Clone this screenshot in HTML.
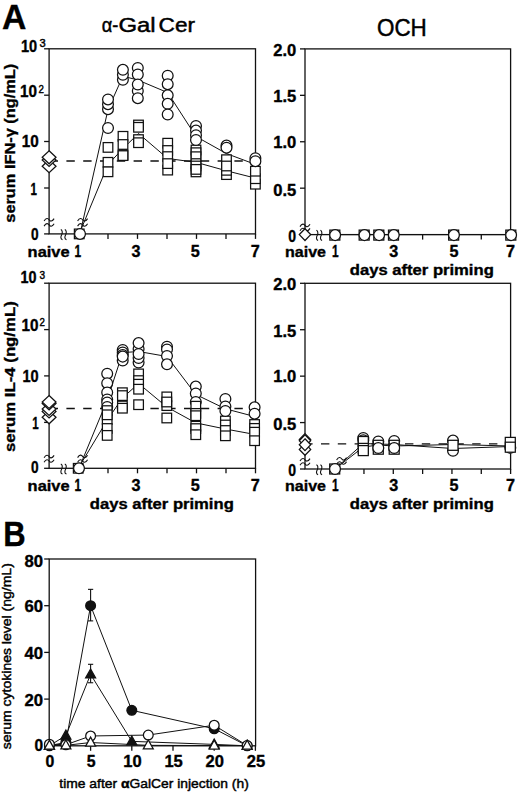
<!DOCTYPE html>
<html><head><meta charset="utf-8"><style>
html,body{margin:0;padding:0;background:#fff;width:520px;height:793px;overflow:hidden}
svg{display:block}
text{font-family:"Liberation Sans", sans-serif}
</style></head><body>
<svg width="520" height="793" viewBox="0 0 520 793" font-family='"Liberation Sans", sans-serif' fill="#000">
<rect width="520" height="793" fill="#fff"/>
<text x="1.9" y="29.3" font-size="35.5" font-weight="bold" text-anchor="start" textLength="24.4" lengthAdjust="spacingAndGlyphs" stroke="#000" stroke-width="0.35">A</text>
<text x="101.8" y="32.3" font-size="19.4" font-weight="normal" text-anchor="start" textLength="16.6" lengthAdjust="spacingAndGlyphs" stroke="#000" stroke-width="0.45">α-</text>
<text x="118.4" y="32.3" font-size="19.4" font-weight="normal" text-anchor="start" textLength="37.2" lengthAdjust="spacingAndGlyphs" stroke="#000" stroke-width="0.45">Gal</text>
<text x="158.6" y="32.3" font-size="19.4" font-weight="normal" text-anchor="start" textLength="36.4" lengthAdjust="spacingAndGlyphs" stroke="#000" stroke-width="0.45">Cer</text>
<text x="377.0" y="35.9" font-size="23.2" font-weight="normal" text-anchor="start" textLength="49.8" lengthAdjust="spacingAndGlyphs" stroke="#000" stroke-width="0.45">OCH</text>
<text x="3.2" y="546.4" font-size="35.5" font-weight="bold" text-anchor="start" textLength="22.4" lengthAdjust="spacingAndGlyphs" stroke="#000" stroke-width="0.35">B</text>
<rect x="49.1" y="48.8" width="206.4" height="185.10000000000002" fill="none" stroke="#111" stroke-width="1.3"/>
<line x1="44.1" y1="48.8" x2="49.1" y2="48.8" stroke="#111" stroke-width="1.3"/>
<line x1="44.1" y1="95.2" x2="49.1" y2="95.2" stroke="#111" stroke-width="1.3"/>
<line x1="44.1" y1="141.5" x2="49.1" y2="141.5" stroke="#111" stroke-width="1.3"/>
<line x1="44.1" y1="188" x2="49.1" y2="188" stroke="#111" stroke-width="1.3"/>
<line x1="44.1" y1="233.9" x2="49.1" y2="233.9" stroke="#111" stroke-width="1.3"/>
<line x1="108.0" y1="233.9" x2="108.0" y2="238.9" stroke="#111" stroke-width="1.3"/>
<line x1="137.5" y1="233.9" x2="137.5" y2="238.9" stroke="#111" stroke-width="1.3"/>
<line x1="167.0" y1="233.9" x2="167.0" y2="238.9" stroke="#111" stroke-width="1.3"/>
<line x1="196.5" y1="233.9" x2="196.5" y2="238.9" stroke="#111" stroke-width="1.3"/>
<line x1="226.0" y1="233.9" x2="226.0" y2="238.9" stroke="#111" stroke-width="1.3"/>
<line x1="255.5" y1="233.9" x2="255.5" y2="238.9" stroke="#111" stroke-width="1.3"/>
<line x1="79.5" y1="233.9" x2="79.5" y2="238.9" stroke="#111" stroke-width="1.3"/>
<text x="37.2" y="52.2" font-size="15.9" font-weight="bold" text-anchor="end" textLength="16.2" lengthAdjust="spacingAndGlyphs" stroke="#000" stroke-width="0.35">10</text>
<text x="39.6" y="46.6" font-size="11.2" font-weight="normal" text-anchor="start" textLength="6.2" lengthAdjust="spacingAndGlyphs" stroke="#000" stroke-width="0.45">3</text>
<text x="36.9" y="97.2" font-size="15.9" font-weight="bold" text-anchor="end" textLength="17.0" lengthAdjust="spacingAndGlyphs" stroke="#000" stroke-width="0.35">10</text>
<text x="38.4" y="92.5" font-size="11.2" font-weight="normal" text-anchor="start" textLength="5.4" lengthAdjust="spacingAndGlyphs" stroke="#000" stroke-width="0.45">2</text>
<text x="38.8" y="146.6" font-size="15.9" font-weight="bold" text-anchor="end" textLength="17.0" lengthAdjust="spacingAndGlyphs" stroke="#000" stroke-width="0.35">10</text>
<text x="37.0" y="194.6" font-size="15.9" font-weight="bold" text-anchor="end" textLength="6.4" lengthAdjust="spacingAndGlyphs" stroke="#000" stroke-width="0.35">1</text>
<text x="38.6" y="239.7" font-size="15.9" font-weight="bold" text-anchor="end" textLength="7.6" lengthAdjust="spacingAndGlyphs" stroke="#000" stroke-width="0.35">0</text>
<text x="27.6" y="256.6" font-size="15" font-weight="bold" text-anchor="start" textLength="42" lengthAdjust="spacingAndGlyphs" stroke="#000" stroke-width="0.35">naive</text>
<text x="77.8" y="256.6" font-size="15.9" font-weight="bold" text-anchor="middle" textLength="6.6" lengthAdjust="spacingAndGlyphs" stroke="#000" stroke-width="0.35">1</text>
<text x="135.9" y="256.6" font-size="15.9" font-weight="bold" text-anchor="middle" textLength="9.0" lengthAdjust="spacingAndGlyphs" stroke="#000" stroke-width="0.35">3</text>
<text x="195.3" y="256.6" font-size="15.9" font-weight="bold" text-anchor="middle" textLength="9.0" lengthAdjust="spacingAndGlyphs" stroke="#000" stroke-width="0.35">5</text>
<text x="255.2" y="256.6" font-size="15.9" font-weight="bold" text-anchor="middle" textLength="9.0" lengthAdjust="spacingAndGlyphs" stroke="#000" stroke-width="0.35">7</text>
<text x="15.4" y="143.2" font-size="15.4" font-weight="bold" text-anchor="middle" textLength="159" lengthAdjust="spacingAndGlyphs" transform="rotate(-90 15.4 143.2)" stroke="#000" stroke-width="0.35">serum IFN-γ (ng/mL)</text>
<path d="M44.1 221.0 C46.1 217.60000000000002 48.1 218.20000000000002 49.1 219.8 S52.1 222.0 54.1 218.60000000000002" fill="none" stroke="#111" stroke-width="1.1"/>
<path d="M44.1 226.1 C46.1 222.70000000000002 48.1 223.3 49.1 224.9 S52.1 227.1 54.1 223.70000000000002" fill="none" stroke="#111" stroke-width="1.1"/>
<path d="M60.8 229.6 C62.099999999999994 230.1 62.8 232.1 61.8 234.4 C60.699999999999996 236.4 60.199999999999996 238.9 62.5 239.70000000000002" fill="none" stroke="#111" stroke-width="1.1"/>
<path d="M64.8 229.6 C66.1 230.1 66.8 232.1 65.8 234.4 C64.7 236.4 64.2 238.9 66.5 239.70000000000002" fill="none" stroke="#111" stroke-width="1.1"/>
<line x1="49.6" y1="161.0" x2="255.5" y2="161.0" stroke="#111" stroke-width="1.3" stroke-dasharray="8.4 8.4"/>
<polyline points="80.0,233.9 108.0,109.5 122.9,76.2 137.8,80.0 167.7,92.6 196.0,136.5 226.5,153.6 255.4,164.4" fill="none" stroke="#111" stroke-width="1.0"/>
<polyline points="79.2,233.9 108.0,164.5 123.0,148.5 138.5,133.5 167.7,158.5 196.0,162.3 226.5,170.8 255.4,178.1" fill="none" stroke="#111" stroke-width="1.0"/>
<path d="M77.6 221.0 C79.6 217.60000000000002 81.6 218.20000000000002 82.6 219.8 S85.6 222.0 87.6 218.60000000000002" fill="none" stroke="#111" stroke-width="1.1"/>
<path d="M77.6 226.1 C79.6 222.70000000000002 81.6 223.3 82.6 224.9 S85.6 227.1 87.6 223.70000000000002" fill="none" stroke="#111" stroke-width="1.1"/>
<path d="M49.1 159.7L56.0 166.2L49.1 172.7L42.2 166.2Z" fill="#fff" stroke="#111" stroke-width="1.25"/>
<path d="M49.1 153.5L56.0 160.0L49.1 166.5L42.2 160.0Z" fill="#fff" stroke="#111" stroke-width="1.25"/>
<path d="M49.1 150.8L56.0 157.3L49.1 163.8L42.2 157.3Z" fill="#fff" stroke="#111" stroke-width="1.25"/>
<rect x="74.40" y="229.10" width="9.6" height="9.6" fill="#fff" stroke="#111" stroke-width="1.25"/>
<circle cx="80.0" cy="233.9" r="5.4" fill="#fff" stroke="#111" stroke-width="1.25"/>
<rect x="103.20" y="142.60" width="9.6" height="9.6" fill="#fff" stroke="#111" stroke-width="1.25"/>
<rect x="103.20" y="157.50" width="9.6" height="9.6" fill="#fff" stroke="#111" stroke-width="1.25"/>
<rect x="103.20" y="167.00" width="9.6" height="9.6" fill="#fff" stroke="#111" stroke-width="1.25"/>
<circle cx="108.0" cy="128.0" r="5.4" fill="#fff" stroke="#111" stroke-width="1.25"/>
<circle cx="108.0" cy="109.2" r="5.4" fill="#fff" stroke="#111" stroke-width="1.25"/>
<circle cx="108.0" cy="104.2" r="5.4" fill="#fff" stroke="#111" stroke-width="1.25"/>
<circle cx="108.0" cy="99.4" r="5.4" fill="#fff" stroke="#111" stroke-width="1.25"/>
<rect x="118.20" y="131.50" width="9.6" height="9.6" fill="#fff" stroke="#111" stroke-width="1.25"/>
<rect x="118.20" y="139.70" width="9.6" height="9.6" fill="#fff" stroke="#111" stroke-width="1.25"/>
<rect x="118.20" y="150.20" width="9.6" height="9.6" fill="#fff" stroke="#111" stroke-width="1.25"/>
<rect x="118.20" y="150.80" width="9.6" height="9.6" fill="#fff" stroke="#111" stroke-width="1.25"/>
<circle cx="122.9" cy="79.8" r="5.4" fill="#fff" stroke="#111" stroke-width="1.25"/>
<circle cx="122.9" cy="74.8" r="5.4" fill="#fff" stroke="#111" stroke-width="1.25"/>
<circle cx="122.9" cy="69.8" r="5.4" fill="#fff" stroke="#111" stroke-width="1.25"/>
<rect x="133.70" y="120.20" width="9.6" height="9.6" fill="#fff" stroke="#111" stroke-width="1.25"/>
<rect x="133.70" y="122.50" width="9.6" height="9.6" fill="#fff" stroke="#111" stroke-width="1.25"/>
<rect x="133.70" y="134.80" width="9.6" height="9.6" fill="#fff" stroke="#111" stroke-width="1.25"/>
<rect x="133.70" y="137.90" width="9.6" height="9.6" fill="#fff" stroke="#111" stroke-width="1.25"/>
<circle cx="137.8" cy="91.0" r="5.4" fill="#fff" stroke="#111" stroke-width="1.25"/>
<circle cx="137.8" cy="67.9" r="5.4" fill="#fff" stroke="#111" stroke-width="1.25"/>
<circle cx="137.8" cy="74.5" r="5.4" fill="#fff" stroke="#111" stroke-width="1.25"/>
<circle cx="137.8" cy="84.5" r="5.4" fill="#fff" stroke="#111" stroke-width="1.25"/>
<circle cx="137.8" cy="98.2" r="5.4" fill="#fff" stroke="#111" stroke-width="1.25"/>
<rect x="162.90" y="138.40" width="9.6" height="9.6" fill="#fff" stroke="#111" stroke-width="1.25"/>
<rect x="162.90" y="145.70" width="9.6" height="9.6" fill="#fff" stroke="#111" stroke-width="1.25"/>
<rect x="162.90" y="151.80" width="9.6" height="9.6" fill="#fff" stroke="#111" stroke-width="1.25"/>
<rect x="162.90" y="165.30" width="9.6" height="9.6" fill="#fff" stroke="#111" stroke-width="1.25"/>
<rect x="162.90" y="158.80" width="9.6" height="9.6" fill="#fff" stroke="#111" stroke-width="1.25"/>
<circle cx="167.7" cy="75.7" r="5.4" fill="#fff" stroke="#111" stroke-width="1.25"/>
<circle cx="167.7" cy="84.2" r="5.4" fill="#fff" stroke="#111" stroke-width="1.25"/>
<circle cx="167.7" cy="95.3" r="5.4" fill="#fff" stroke="#111" stroke-width="1.25"/>
<circle cx="167.7" cy="103.8" r="5.4" fill="#fff" stroke="#111" stroke-width="1.25"/>
<circle cx="167.7" cy="114.5" r="5.4" fill="#fff" stroke="#111" stroke-width="1.25"/>
<rect x="191.20" y="145.20" width="9.6" height="9.6" fill="#fff" stroke="#111" stroke-width="1.25"/>
<rect x="191.20" y="147.90" width="9.6" height="9.6" fill="#fff" stroke="#111" stroke-width="1.25"/>
<rect x="191.20" y="151.90" width="9.6" height="9.6" fill="#fff" stroke="#111" stroke-width="1.25"/>
<rect x="191.20" y="158.80" width="9.6" height="9.6" fill="#fff" stroke="#111" stroke-width="1.25"/>
<rect x="191.20" y="161.20" width="9.6" height="9.6" fill="#fff" stroke="#111" stroke-width="1.25"/>
<rect x="191.20" y="167.10" width="9.6" height="9.6" fill="#fff" stroke="#111" stroke-width="1.25"/>
<rect x="191.20" y="164.60" width="9.6" height="9.6" fill="#fff" stroke="#111" stroke-width="1.25"/>
<circle cx="196.0" cy="126.0" r="5.4" fill="#fff" stroke="#111" stroke-width="1.25"/>
<circle cx="196.0" cy="130.6" r="5.4" fill="#fff" stroke="#111" stroke-width="1.25"/>
<circle cx="196.0" cy="135.2" r="5.4" fill="#fff" stroke="#111" stroke-width="1.25"/>
<circle cx="196.0" cy="140.0" r="5.4" fill="#fff" stroke="#111" stroke-width="1.25"/>
<rect x="221.70" y="169.80" width="9.6" height="9.6" fill="#fff" stroke="#111" stroke-width="1.25"/>
<rect x="221.70" y="165.50" width="9.6" height="9.6" fill="#fff" stroke="#111" stroke-width="1.25"/>
<rect x="221.70" y="154.90" width="9.6" height="9.6" fill="#fff" stroke="#111" stroke-width="1.25"/>
<rect x="221.70" y="161.20" width="9.6" height="9.6" fill="#fff" stroke="#111" stroke-width="1.25"/>
<circle cx="226.5" cy="145.6" r="5.4" fill="#fff" stroke="#111" stroke-width="1.25"/>
<circle cx="226.5" cy="147.7" r="5.4" fill="#fff" stroke="#111" stroke-width="1.25"/>
<rect x="250.60" y="179.40" width="9.6" height="9.6" fill="#fff" stroke="#111" stroke-width="1.25"/>
<rect x="250.60" y="173.90" width="9.6" height="9.6" fill="#fff" stroke="#111" stroke-width="1.25"/>
<rect x="250.60" y="166.40" width="9.6" height="9.6" fill="#fff" stroke="#111" stroke-width="1.25"/>
<circle cx="255.4" cy="158.2" r="5.4" fill="#fff" stroke="#111" stroke-width="1.25"/>
<circle cx="255.4" cy="161.2" r="5.4" fill="#fff" stroke="#111" stroke-width="1.25"/>
<rect x="49.1" y="283.2" width="206.4" height="185.10000000000002" fill="none" stroke="#111" stroke-width="1.3"/>
<line x1="44.1" y1="283.2" x2="49.1" y2="283.2" stroke="#111" stroke-width="1.3"/>
<line x1="44.1" y1="329.6" x2="49.1" y2="329.6" stroke="#111" stroke-width="1.3"/>
<line x1="44.1" y1="375.9" x2="49.1" y2="375.9" stroke="#111" stroke-width="1.3"/>
<line x1="44.1" y1="422.4" x2="49.1" y2="422.4" stroke="#111" stroke-width="1.3"/>
<line x1="44.1" y1="468.3" x2="49.1" y2="468.3" stroke="#111" stroke-width="1.3"/>
<line x1="108.0" y1="468.3" x2="108.0" y2="473.3" stroke="#111" stroke-width="1.3"/>
<line x1="137.5" y1="468.3" x2="137.5" y2="473.3" stroke="#111" stroke-width="1.3"/>
<line x1="167.0" y1="468.3" x2="167.0" y2="473.3" stroke="#111" stroke-width="1.3"/>
<line x1="196.5" y1="468.3" x2="196.5" y2="473.3" stroke="#111" stroke-width="1.3"/>
<line x1="226.0" y1="468.3" x2="226.0" y2="473.3" stroke="#111" stroke-width="1.3"/>
<line x1="255.5" y1="468.3" x2="255.5" y2="473.3" stroke="#111" stroke-width="1.3"/>
<line x1="79.5" y1="468.3" x2="79.5" y2="473.3" stroke="#111" stroke-width="1.3"/>
<text x="36.4" y="283.4" font-size="15.9" font-weight="bold" text-anchor="end" textLength="16.0" lengthAdjust="spacingAndGlyphs" stroke="#000" stroke-width="0.35">10</text>
<text x="39.5" y="278.6" font-size="11.2" font-weight="normal" text-anchor="start" textLength="5.6" lengthAdjust="spacingAndGlyphs" stroke="#000" stroke-width="0.45">3</text>
<text x="38.6" y="330.8" font-size="15.9" font-weight="bold" text-anchor="end" textLength="17.0" lengthAdjust="spacingAndGlyphs" stroke="#000" stroke-width="0.35">10</text>
<text x="39.6" y="326.2" font-size="11.2" font-weight="normal" text-anchor="start" textLength="5.4" lengthAdjust="spacingAndGlyphs" stroke="#000" stroke-width="0.45">2</text>
<text x="38.6" y="382.4" font-size="15.9" font-weight="bold" text-anchor="end" textLength="16.2" lengthAdjust="spacingAndGlyphs" stroke="#000" stroke-width="0.35">10</text>
<text x="38.6" y="428.6" font-size="15.9" font-weight="bold" text-anchor="end" textLength="6.4" lengthAdjust="spacingAndGlyphs" stroke="#000" stroke-width="0.35">1</text>
<text x="38.6" y="473.4" font-size="15.9" font-weight="bold" text-anchor="end" textLength="7.6" lengthAdjust="spacingAndGlyphs" stroke="#000" stroke-width="0.35">0</text>
<text x="27.6" y="491.0" font-size="15" font-weight="bold" text-anchor="start" textLength="42" lengthAdjust="spacingAndGlyphs" stroke="#000" stroke-width="0.35">naive</text>
<text x="77.8" y="491.0" font-size="15.9" font-weight="bold" text-anchor="middle" textLength="6.6" lengthAdjust="spacingAndGlyphs" stroke="#000" stroke-width="0.35">1</text>
<text x="135.9" y="491.0" font-size="15.9" font-weight="bold" text-anchor="middle" textLength="9.0" lengthAdjust="spacingAndGlyphs" stroke="#000" stroke-width="0.35">3</text>
<text x="195.3" y="491.0" font-size="15.9" font-weight="bold" text-anchor="middle" textLength="9.0" lengthAdjust="spacingAndGlyphs" stroke="#000" stroke-width="0.35">5</text>
<text x="255.2" y="491.0" font-size="15.9" font-weight="bold" text-anchor="middle" textLength="9.0" lengthAdjust="spacingAndGlyphs" stroke="#000" stroke-width="0.35">7</text>
<text x="89.8" y="508.79999999999995" font-size="14.4" font-weight="bold" text-anchor="start" textLength="144" lengthAdjust="spacingAndGlyphs" stroke="#000" stroke-width="0.35">days after priming</text>
<text x="15.4" y="376.7" font-size="15.4" font-weight="bold" text-anchor="middle" textLength="150.8" lengthAdjust="spacingAndGlyphs" transform="rotate(-90 15.4 376.7)" stroke="#000" stroke-width="0.35">serum IL-4 (ng/mL)</text>
<path d="M44.1 457.8 C46.1 454.40000000000003 48.1 455.0 49.1 456.6 S52.1 458.8 54.1 455.40000000000003" fill="none" stroke="#111" stroke-width="1.1"/>
<path d="M44.1 462.2 C46.1 458.8 48.1 459.4 49.1 461.0 S52.1 463.2 54.1 459.8" fill="none" stroke="#111" stroke-width="1.1"/>
<path d="M60.8 464.0 C62.099999999999994 464.5 62.8 466.5 61.8 468.8 C60.699999999999996 470.8 60.199999999999996 473.3 62.5 474.1" fill="none" stroke="#111" stroke-width="1.1"/>
<path d="M64.8 464.0 C66.1 464.5 66.8 466.5 65.8 468.8 C64.7 470.8 64.2 473.3 66.5 474.1" fill="none" stroke="#111" stroke-width="1.1"/>
<line x1="49.6" y1="408.5" x2="255.5" y2="408.5" stroke="#111" stroke-width="1.3" stroke-dasharray="8.4 8.4"/>
<polyline points="79.0,468.3 107.2,400.2 122.7,352.6 138.6,351.5 167.0,356.5 195.8,394.5 225.4,408.8 254.6,416.5" fill="none" stroke="#111" stroke-width="1.0"/>
<polyline points="78.2,468.3 107.2,420.2 122.4,398.0 138.6,383.5 166.8,407.0 195.8,422.9 225.4,429.0 254.6,434.4" fill="none" stroke="#111" stroke-width="1.0"/>
<path d="M77.6 457.59999999999997 C79.6 454.2 81.6 454.79999999999995 82.6 456.4 S85.6 458.59999999999997 87.6 455.2" fill="none" stroke="#111" stroke-width="1.1"/>
<path d="M77.6 462.2 C79.6 458.8 81.6 459.4 82.6 461.0 S85.6 463.2 87.6 459.8" fill="none" stroke="#111" stroke-width="1.1"/>
<path d="M49.1 410.8L56.0 417.3L49.1 423.8L42.2 417.3Z" fill="#fff" stroke="#111" stroke-width="1.25"/>
<path d="M49.1 405.0L56.0 411.5L49.1 418.0L42.2 411.5Z" fill="#fff" stroke="#111" stroke-width="1.25"/>
<path d="M49.1 402.5L56.0 409.0L49.1 415.5L42.2 409.0Z" fill="#fff" stroke="#111" stroke-width="1.25"/>
<path d="M49.1 397.0L56.0 403.5L49.1 410.0L42.2 403.5Z" fill="#fff" stroke="#111" stroke-width="1.25"/>
<path d="M49.1 395.5L56.0 402.0L49.1 408.5L42.2 402.0Z" fill="#fff" stroke="#111" stroke-width="1.25"/>
<rect x="73.40" y="463.50" width="9.6" height="9.6" fill="#fff" stroke="#111" stroke-width="1.25"/>
<circle cx="79.0" cy="468.3" r="5.4" fill="#fff" stroke="#111" stroke-width="1.25"/>
<circle cx="107.2" cy="373.7" r="5.4" fill="#fff" stroke="#111" stroke-width="1.25"/>
<circle cx="107.2" cy="383.2" r="5.4" fill="#fff" stroke="#111" stroke-width="1.25"/>
<circle cx="107.2" cy="392.5" r="5.4" fill="#fff" stroke="#111" stroke-width="1.25"/>
<circle cx="107.2" cy="399.5" r="5.4" fill="#fff" stroke="#111" stroke-width="1.25"/>
<circle cx="107.2" cy="402.5" r="5.4" fill="#fff" stroke="#111" stroke-width="1.25"/>
<circle cx="107.2" cy="407.0" r="5.4" fill="#fff" stroke="#111" stroke-width="1.25"/>
<rect x="102.40" y="414.70" width="9.6" height="9.6" fill="#fff" stroke="#111" stroke-width="1.25"/>
<rect x="102.40" y="405.80" width="9.6" height="9.6" fill="#fff" stroke="#111" stroke-width="1.25"/>
<rect x="102.40" y="410.00" width="9.6" height="9.6" fill="#fff" stroke="#111" stroke-width="1.25"/>
<rect x="102.40" y="423.70" width="9.6" height="9.6" fill="#fff" stroke="#111" stroke-width="1.25"/>
<rect x="102.40" y="430.60" width="9.6" height="9.6" fill="#fff" stroke="#111" stroke-width="1.25"/>
<circle cx="122.7" cy="360.5" r="5.4" fill="#fff" stroke="#111" stroke-width="1.25"/>
<circle cx="122.7" cy="350.0" r="5.4" fill="#fff" stroke="#111" stroke-width="1.25"/>
<circle cx="122.7" cy="352.5" r="5.4" fill="#fff" stroke="#111" stroke-width="1.25"/>
<circle cx="122.7" cy="355.0" r="5.4" fill="#fff" stroke="#111" stroke-width="1.25"/>
<circle cx="122.7" cy="356.6" r="5.4" fill="#fff" stroke="#111" stroke-width="1.25"/>
<rect x="117.60" y="387.90" width="9.6" height="9.6" fill="#fff" stroke="#111" stroke-width="1.25"/>
<rect x="117.60" y="390.80" width="9.6" height="9.6" fill="#fff" stroke="#111" stroke-width="1.25"/>
<rect x="117.60" y="401.20" width="9.6" height="9.6" fill="#fff" stroke="#111" stroke-width="1.25"/>
<rect x="117.60" y="403.40" width="9.6" height="9.6" fill="#fff" stroke="#111" stroke-width="1.25"/>
<rect x="133.80" y="369.10" width="9.6" height="9.6" fill="#fff" stroke="#111" stroke-width="1.25"/>
<rect x="133.80" y="375.80" width="9.6" height="9.6" fill="#fff" stroke="#111" stroke-width="1.25"/>
<rect x="133.80" y="379.40" width="9.6" height="9.6" fill="#fff" stroke="#111" stroke-width="1.25"/>
<rect x="133.80" y="384.40" width="9.6" height="9.6" fill="#fff" stroke="#111" stroke-width="1.25"/>
<rect x="133.80" y="399.90" width="9.6" height="9.6" fill="#fff" stroke="#111" stroke-width="1.25"/>
<circle cx="138.6" cy="362.5" r="5.4" fill="#fff" stroke="#111" stroke-width="1.25"/>
<circle cx="138.6" cy="358.0" r="5.4" fill="#fff" stroke="#111" stroke-width="1.25"/>
<circle cx="138.6" cy="349.0" r="5.4" fill="#fff" stroke="#111" stroke-width="1.25"/>
<circle cx="138.6" cy="343.1" r="5.4" fill="#fff" stroke="#111" stroke-width="1.25"/>
<circle cx="138.6" cy="354.0" r="5.4" fill="#fff" stroke="#111" stroke-width="1.25"/>
<rect x="162.00" y="392.10" width="9.6" height="9.6" fill="#fff" stroke="#111" stroke-width="1.25"/>
<rect x="162.00" y="400.80" width="9.6" height="9.6" fill="#fff" stroke="#111" stroke-width="1.25"/>
<rect x="162.00" y="397.20" width="9.6" height="9.6" fill="#fff" stroke="#111" stroke-width="1.25"/>
<rect x="162.00" y="413.20" width="9.6" height="9.6" fill="#fff" stroke="#111" stroke-width="1.25"/>
<circle cx="167.0" cy="346.7" r="5.4" fill="#fff" stroke="#111" stroke-width="1.25"/>
<circle cx="167.0" cy="349.5" r="5.4" fill="#fff" stroke="#111" stroke-width="1.25"/>
<circle cx="167.0" cy="356.0" r="5.4" fill="#fff" stroke="#111" stroke-width="1.25"/>
<circle cx="167.0" cy="364.3" r="5.4" fill="#fff" stroke="#111" stroke-width="1.25"/>
<circle cx="195.8" cy="386.6" r="5.4" fill="#fff" stroke="#111" stroke-width="1.25"/>
<circle cx="195.8" cy="393.5" r="5.4" fill="#fff" stroke="#111" stroke-width="1.25"/>
<circle cx="195.8" cy="402.0" r="5.4" fill="#fff" stroke="#111" stroke-width="1.25"/>
<rect x="191.00" y="401.40" width="9.6" height="9.6" fill="#fff" stroke="#111" stroke-width="1.25"/>
<rect x="191.00" y="408.60" width="9.6" height="9.6" fill="#fff" stroke="#111" stroke-width="1.25"/>
<rect x="191.00" y="410.90" width="9.6" height="9.6" fill="#fff" stroke="#111" stroke-width="1.25"/>
<rect x="191.00" y="421.40" width="9.6" height="9.6" fill="#fff" stroke="#111" stroke-width="1.25"/>
<rect x="191.00" y="423.80" width="9.6" height="9.6" fill="#fff" stroke="#111" stroke-width="1.25"/>
<rect x="191.00" y="429.90" width="9.6" height="9.6" fill="#fff" stroke="#111" stroke-width="1.25"/>
<rect x="220.60" y="416.20" width="9.6" height="9.6" fill="#fff" stroke="#111" stroke-width="1.25"/>
<rect x="220.60" y="420.20" width="9.6" height="9.6" fill="#fff" stroke="#111" stroke-width="1.25"/>
<rect x="220.60" y="425.70" width="9.6" height="9.6" fill="#fff" stroke="#111" stroke-width="1.25"/>
<rect x="220.60" y="431.00" width="9.6" height="9.6" fill="#fff" stroke="#111" stroke-width="1.25"/>
<circle cx="225.4" cy="399.0" r="5.4" fill="#fff" stroke="#111" stroke-width="1.25"/>
<circle cx="225.4" cy="406.5" r="5.4" fill="#fff" stroke="#111" stroke-width="1.25"/>
<circle cx="225.4" cy="411.0" r="5.4" fill="#fff" stroke="#111" stroke-width="1.25"/>
<rect x="249.80" y="419.70" width="9.6" height="9.6" fill="#fff" stroke="#111" stroke-width="1.25"/>
<rect x="249.80" y="423.60" width="9.6" height="9.6" fill="#fff" stroke="#111" stroke-width="1.25"/>
<rect x="249.80" y="427.40" width="9.6" height="9.6" fill="#fff" stroke="#111" stroke-width="1.25"/>
<rect x="249.80" y="435.90" width="9.6" height="9.6" fill="#fff" stroke="#111" stroke-width="1.25"/>
<circle cx="254.6" cy="407.3" r="5.4" fill="#fff" stroke="#111" stroke-width="1.25"/>
<circle cx="254.6" cy="413.7" r="5.4" fill="#fff" stroke="#111" stroke-width="1.25"/>
<rect x="305.0" y="48.9" width="205.60000000000002" height="185.7" fill="none" stroke="#111" stroke-width="1.3"/>
<line x1="300.0" y1="48.9" x2="305.0" y2="48.9" stroke="#111" stroke-width="1.3"/>
<text x="296.2" y="55.5" font-size="15.9" font-weight="bold" text-anchor="end" textLength="23.0" lengthAdjust="spacingAndGlyphs" stroke="#000" stroke-width="0.35">2.0</text>
<line x1="300.0" y1="95.32499999999999" x2="305.0" y2="95.32499999999999" stroke="#111" stroke-width="1.3"/>
<text x="296.2" y="102.12499999999999" font-size="15.9" font-weight="bold" text-anchor="end" textLength="23.0" lengthAdjust="spacingAndGlyphs" stroke="#000" stroke-width="0.35">1.5</text>
<line x1="300.0" y1="141.75" x2="305.0" y2="141.75" stroke="#111" stroke-width="1.3"/>
<text x="296.2" y="147.75" font-size="15.9" font-weight="bold" text-anchor="end" textLength="23.0" lengthAdjust="spacingAndGlyphs" stroke="#000" stroke-width="0.35">1.0</text>
<line x1="300.0" y1="188.17499999999998" x2="305.0" y2="188.17499999999998" stroke="#111" stroke-width="1.3"/>
<text x="296.2" y="195.77499999999998" font-size="15.9" font-weight="bold" text-anchor="end" textLength="23.0" lengthAdjust="spacingAndGlyphs" stroke="#000" stroke-width="0.35">0.5</text>
<line x1="300.0" y1="234.6" x2="305.0" y2="234.6" stroke="#111" stroke-width="1.3"/>
<text x="296.0" y="241.9" font-size="15.9" font-weight="bold" text-anchor="end" textLength="7.8" lengthAdjust="spacingAndGlyphs" stroke="#000" stroke-width="0.35">0</text>
<line x1="334.63" y1="234.6" x2="334.63" y2="239.6" stroke="#111" stroke-width="1.3"/>
<line x1="363.96000000000004" y1="234.6" x2="363.96000000000004" y2="239.6" stroke="#111" stroke-width="1.3"/>
<line x1="393.29" y1="234.6" x2="393.29" y2="239.6" stroke="#111" stroke-width="1.3"/>
<line x1="422.62" y1="234.6" x2="422.62" y2="239.6" stroke="#111" stroke-width="1.3"/>
<line x1="451.95" y1="234.6" x2="451.95" y2="239.6" stroke="#111" stroke-width="1.3"/>
<line x1="481.28" y1="234.6" x2="481.28" y2="239.6" stroke="#111" stroke-width="1.3"/>
<line x1="510.61" y1="234.6" x2="510.61" y2="239.6" stroke="#111" stroke-width="1.3"/>
<text x="285.0" y="256.8" font-size="15" font-weight="bold" text-anchor="start" textLength="41" lengthAdjust="spacingAndGlyphs" stroke="#000" stroke-width="0.35">naive</text>
<text x="335.23" y="256.8" font-size="15.9" font-weight="bold" text-anchor="middle" textLength="6.6" lengthAdjust="spacingAndGlyphs" stroke="#000" stroke-width="0.35">1</text>
<text x="393.69" y="256.8" font-size="15.9" font-weight="bold" text-anchor="middle" textLength="9.0" lengthAdjust="spacingAndGlyphs" stroke="#000" stroke-width="0.35">3</text>
<text x="453.95" y="256.8" font-size="15.9" font-weight="bold" text-anchor="middle" textLength="9.0" lengthAdjust="spacingAndGlyphs" stroke="#000" stroke-width="0.35">5</text>
<text x="510.61" y="256.8" font-size="15.9" font-weight="bold" text-anchor="middle" textLength="9.0" lengthAdjust="spacingAndGlyphs" stroke="#000" stroke-width="0.35">7</text>
<text x="349.8" y="274.6" font-size="14.4" font-weight="bold" text-anchor="start" textLength="144" lengthAdjust="spacingAndGlyphs" stroke="#000" stroke-width="0.35">days after priming</text>
<path d="M300.0 226.6 C302.0 223.20000000000002 304.0 223.8 305.0 225.4 S308.0 227.6 310.0 224.20000000000002" fill="none" stroke="#111" stroke-width="1.1"/>
<path d="M300.0 230.79999999999998 C302.0 227.4 304.0 228.0 305.0 229.6 S308.0 231.79999999999998 310.0 228.4" fill="none" stroke="#111" stroke-width="1.1"/>
<path d="M316.4 230.29999999999998 C317.7 230.79999999999998 318.4 232.79999999999998 317.4 235.1 C316.29999999999995 237.1 315.79999999999995 239.6 318.09999999999997 240.4" fill="none" stroke="#111" stroke-width="1.1"/>
<path d="M320.4 230.29999999999998 C321.7 230.79999999999998 322.4 232.79999999999998 321.4 235.1 C320.29999999999995 237.1 319.79999999999995 239.6 322.09999999999997 240.4" fill="none" stroke="#111" stroke-width="1.1"/>
<polyline points="334.63,234.6 510.61,234.6" fill="none" stroke="#111" stroke-width="1.0"/>
<path d="M305.0 228.7L310.7 234.6L305.0 240.5L299.3 234.6Z" fill="#fff" stroke="#111" stroke-width="1.25"/>
<rect x="329.83" y="230.10" width="10" height="10" fill="#fff" stroke="#111" stroke-width="1.25"/>
<circle cx="335.13" cy="235.1" r="5.4" fill="#fff" stroke="#111" stroke-width="1.25"/>
<rect x="359.16" y="230.10" width="10" height="10" fill="#fff" stroke="#111" stroke-width="1.25"/>
<circle cx="364.46000000000004" cy="235.1" r="5.4" fill="#fff" stroke="#111" stroke-width="1.25"/>
<rect x="373.82" y="230.10" width="10" height="10" fill="#fff" stroke="#111" stroke-width="1.25"/>
<circle cx="379.125" cy="235.1" r="5.4" fill="#fff" stroke="#111" stroke-width="1.25"/>
<rect x="388.49" y="230.10" width="10" height="10" fill="#fff" stroke="#111" stroke-width="1.25"/>
<circle cx="393.79" cy="235.1" r="5.4" fill="#fff" stroke="#111" stroke-width="1.25"/>
<rect x="448.65" y="230.10" width="10" height="10" fill="#fff" stroke="#111" stroke-width="1.25"/>
<circle cx="453.95" cy="235.1" r="5.4" fill="#fff" stroke="#111" stroke-width="1.25"/>
<rect x="505.81" y="230.10" width="10" height="10" fill="#fff" stroke="#111" stroke-width="1.25"/>
<circle cx="511.11" cy="235.1" r="5.4" fill="#fff" stroke="#111" stroke-width="1.25"/>
<rect x="305.0" y="283.3" width="205.60000000000002" height="185.7" fill="none" stroke="#111" stroke-width="1.3"/>
<line x1="300.0" y1="283.3" x2="305.0" y2="283.3" stroke="#111" stroke-width="1.3"/>
<text x="296.2" y="289.90000000000003" font-size="15.9" font-weight="bold" text-anchor="end" textLength="23.0" lengthAdjust="spacingAndGlyphs" stroke="#000" stroke-width="0.35">2.0</text>
<line x1="300.0" y1="329.725" x2="305.0" y2="329.725" stroke="#111" stroke-width="1.3"/>
<text x="296.2" y="336.52500000000003" font-size="15.9" font-weight="bold" text-anchor="end" textLength="23.0" lengthAdjust="spacingAndGlyphs" stroke="#000" stroke-width="0.35">1.5</text>
<line x1="300.0" y1="376.15" x2="305.0" y2="376.15" stroke="#111" stroke-width="1.3"/>
<text x="296.2" y="382.15" font-size="15.9" font-weight="bold" text-anchor="end" textLength="23.0" lengthAdjust="spacingAndGlyphs" stroke="#000" stroke-width="0.35">1.0</text>
<line x1="300.0" y1="422.575" x2="305.0" y2="422.575" stroke="#111" stroke-width="1.3"/>
<text x="296.2" y="430.175" font-size="15.9" font-weight="bold" text-anchor="end" textLength="23.0" lengthAdjust="spacingAndGlyphs" stroke="#000" stroke-width="0.35">0.5</text>
<line x1="300.0" y1="469.0" x2="305.0" y2="469.0" stroke="#111" stroke-width="1.3"/>
<text x="296.0" y="476.3" font-size="15.9" font-weight="bold" text-anchor="end" textLength="7.8" lengthAdjust="spacingAndGlyphs" stroke="#000" stroke-width="0.35">0</text>
<line x1="334.63" y1="469.0" x2="334.63" y2="474.0" stroke="#111" stroke-width="1.3"/>
<line x1="363.96000000000004" y1="469.0" x2="363.96000000000004" y2="474.0" stroke="#111" stroke-width="1.3"/>
<line x1="393.29" y1="469.0" x2="393.29" y2="474.0" stroke="#111" stroke-width="1.3"/>
<line x1="422.62" y1="469.0" x2="422.62" y2="474.0" stroke="#111" stroke-width="1.3"/>
<line x1="451.95" y1="469.0" x2="451.95" y2="474.0" stroke="#111" stroke-width="1.3"/>
<line x1="481.28" y1="469.0" x2="481.28" y2="474.0" stroke="#111" stroke-width="1.3"/>
<line x1="510.61" y1="469.0" x2="510.61" y2="474.0" stroke="#111" stroke-width="1.3"/>
<text x="285.0" y="491.20000000000005" font-size="15" font-weight="bold" text-anchor="start" textLength="41" lengthAdjust="spacingAndGlyphs" stroke="#000" stroke-width="0.35">naive</text>
<text x="335.23" y="491.20000000000005" font-size="15.9" font-weight="bold" text-anchor="middle" textLength="6.6" lengthAdjust="spacingAndGlyphs" stroke="#000" stroke-width="0.35">1</text>
<text x="393.69" y="491.20000000000005" font-size="15.9" font-weight="bold" text-anchor="middle" textLength="9.0" lengthAdjust="spacingAndGlyphs" stroke="#000" stroke-width="0.35">3</text>
<text x="453.95" y="491.20000000000005" font-size="15.9" font-weight="bold" text-anchor="middle" textLength="9.0" lengthAdjust="spacingAndGlyphs" stroke="#000" stroke-width="0.35">5</text>
<text x="510.61" y="491.20000000000005" font-size="15.9" font-weight="bold" text-anchor="middle" textLength="9.0" lengthAdjust="spacingAndGlyphs" stroke="#000" stroke-width="0.35">7</text>
<text x="349.8" y="508.6" font-size="14.4" font-weight="bold" text-anchor="start" textLength="144" lengthAdjust="spacingAndGlyphs" stroke="#000" stroke-width="0.35">days after priming</text>
<path d="M300.0 461.0 C302.0 457.6 304.0 458.2 305.0 459.8 S308.0 462.0 310.0 458.6" fill="none" stroke="#111" stroke-width="1.1"/>
<path d="M300.0 465.2 C302.0 461.8 304.0 462.4 305.0 464.0 S308.0 466.2 310.0 462.8" fill="none" stroke="#111" stroke-width="1.1"/>
<path d="M316.4 464.7 C317.7 465.2 318.4 467.2 317.4 469.5 C316.29999999999995 471.5 315.79999999999995 474.0 318.09999999999997 474.8" fill="none" stroke="#111" stroke-width="1.1"/>
<path d="M320.4 464.7 C321.7 465.2 322.4 467.2 321.4 469.5 C320.29999999999995 471.5 319.79999999999995 474.0 322.09999999999997 474.8" fill="none" stroke="#111" stroke-width="1.1"/>
<line x1="304.2" y1="443.9" x2="510.6" y2="443.9" stroke="#111" stroke-width="1.3" stroke-dasharray="8.4 8.4"/>
<polyline points="335.0,469.0 363.3,443.5 378.3,444.0 394.2,444.5 453.0,448.5 510.3,446.5" fill="none" stroke="#111" stroke-width="1.0"/>
<polyline points="335.0,469.0 363.3,447.0 378.3,445.0 394.2,446.0 453.0,444.5 510.3,446.0" fill="none" stroke="#111" stroke-width="1.0"/>
<path d="M336.6 460.0 C338.6 456.6 340.6 457.2 341.6 458.8 S344.6 461.0 346.6 457.6" fill="none" stroke="#111" stroke-width="1.1"/>
<path d="M336.6 464.2 C338.6 460.8 340.6 461.4 341.6 463.0 S344.6 465.2 346.6 461.8" fill="none" stroke="#111" stroke-width="1.1"/>
<path d="M305.0 433.6L310.7 439.5L305.0 445.4L299.3 439.5Z" fill="#fff" stroke="#111" stroke-width="1.25"/>
<path d="M305.0 434.90000000000003L310.7 440.8L305.0 446.7L299.3 440.8Z" fill="#fff" stroke="#111" stroke-width="1.25"/>
<path d="M305.0 443.5L310.7 449.4L305.0 455.29999999999995L299.3 449.4Z" fill="#fff" stroke="#111" stroke-width="1.25"/>
<path d="M305.0 438.8L310.7 444.7L305.0 450.59999999999997L299.3 444.7Z" fill="#fff" stroke="#111" stroke-width="1.25"/>
<rect x="329.70" y="464.00" width="10" height="10" fill="#fff" stroke="#111" stroke-width="1.25"/>
<circle cx="335.0" cy="469.0" r="5.4" fill="#fff" stroke="#111" stroke-width="1.25"/>
<circle cx="363.3" cy="438.0" r="5.4" fill="#fff" stroke="#111" stroke-width="1.25"/>
<circle cx="363.3" cy="440.3" r="5.4" fill="#fff" stroke="#111" stroke-width="1.25"/>
<rect x="358.30" y="436.50" width="10" height="10" fill="#fff" stroke="#111" stroke-width="1.25"/>
<rect x="358.30" y="443.40" width="10" height="10" fill="#fff" stroke="#111" stroke-width="1.25"/>
<rect x="358.30" y="445.60" width="10" height="10" fill="#fff" stroke="#111" stroke-width="1.25"/>
<circle cx="378.3" cy="441.5" r="5.4" fill="#fff" stroke="#111" stroke-width="1.25"/>
<rect x="373.30" y="440.30" width="10" height="10" fill="#fff" stroke="#111" stroke-width="1.25"/>
<rect x="373.30" y="444.20" width="10" height="10" fill="#fff" stroke="#111" stroke-width="1.25"/>
<circle cx="378.3" cy="448.0" r="5.4" fill="#fff" stroke="#111" stroke-width="1.25"/>
<circle cx="394.2" cy="441.0" r="5.4" fill="#fff" stroke="#111" stroke-width="1.25"/>
<rect x="389.20" y="440.30" width="10" height="10" fill="#fff" stroke="#111" stroke-width="1.25"/>
<rect x="389.20" y="444.20" width="10" height="10" fill="#fff" stroke="#111" stroke-width="1.25"/>
<circle cx="394.2" cy="448.0" r="5.4" fill="#fff" stroke="#111" stroke-width="1.25"/>
<circle cx="453.0" cy="440.6" r="5.4" fill="#fff" stroke="#111" stroke-width="1.25"/>
<circle cx="453.0" cy="450.8" r="5.4" fill="#fff" stroke="#111" stroke-width="1.25"/>
<rect x="448.00" y="440.30" width="10" height="10" fill="#fff" stroke="#111" stroke-width="1.25"/>
<circle cx="510.3" cy="447.8" r="5.4" fill="#fff" stroke="#111" stroke-width="1.25"/>
<rect x="505.30" y="437.40" width="10" height="10" fill="#fff" stroke="#111" stroke-width="1.25"/>
<rect x="505.30" y="442.20" width="10" height="10" fill="#fff" stroke="#111" stroke-width="1.25"/>
<rect x="49.2" y="559.0" width="206.39999999999998" height="186.79999999999995" fill="none" stroke="#111" stroke-width="1.3"/>
<line x1="44.2" y1="559.0" x2="49.2" y2="559.0" stroke="#111" stroke-width="1.3"/>
<text x="43.0" y="566.6" font-size="15.9" font-weight="bold" text-anchor="end" textLength="18.6" lengthAdjust="spacingAndGlyphs" stroke="#000" stroke-width="0.35">80</text>
<line x1="44.2" y1="605.7" x2="49.2" y2="605.7" stroke="#111" stroke-width="1.3"/>
<text x="43.0" y="611.8000000000001" font-size="15.9" font-weight="bold" text-anchor="end" textLength="18.6" lengthAdjust="spacingAndGlyphs" stroke="#000" stroke-width="0.35">60</text>
<line x1="44.2" y1="652.4" x2="49.2" y2="652.4" stroke="#111" stroke-width="1.3"/>
<text x="43.0" y="659.1" font-size="15.9" font-weight="bold" text-anchor="end" textLength="18.6" lengthAdjust="spacingAndGlyphs" stroke="#000" stroke-width="0.35">40</text>
<line x1="44.2" y1="699.0999999999999" x2="49.2" y2="699.0999999999999" stroke="#111" stroke-width="1.3"/>
<text x="43.0" y="705.6999999999999" font-size="15.9" font-weight="bold" text-anchor="end" textLength="18.6" lengthAdjust="spacingAndGlyphs" stroke="#000" stroke-width="0.35">20</text>
<line x1="44.2" y1="745.8" x2="49.2" y2="745.8" stroke="#111" stroke-width="1.3"/>
<text x="43.0" y="750.5999999999999" font-size="15.9" font-weight="bold" text-anchor="end" textLength="8.6" lengthAdjust="spacingAndGlyphs" stroke="#000" stroke-width="0.35">0</text>
<line x1="49.4" y1="745.8" x2="49.4" y2="750.8" stroke="#111" stroke-width="1.3"/>
<text x="50.0" y="767.4" font-size="15.9" font-weight="bold" text-anchor="middle" textLength="8.8" lengthAdjust="spacingAndGlyphs" stroke="#000" stroke-width="0.35">0</text>
<line x1="90.6" y1="745.8" x2="90.6" y2="750.8" stroke="#111" stroke-width="1.3"/>
<text x="91.19999999999999" y="767.4" font-size="15.9" font-weight="bold" text-anchor="middle" textLength="8.8" lengthAdjust="spacingAndGlyphs" stroke="#000" stroke-width="0.35">5</text>
<line x1="131.8" y1="745.8" x2="131.8" y2="750.8" stroke="#111" stroke-width="1.3"/>
<text x="132.4" y="767.4" font-size="15.9" font-weight="bold" text-anchor="middle" textLength="18.4" lengthAdjust="spacingAndGlyphs" stroke="#000" stroke-width="0.35">10</text>
<line x1="173.0" y1="745.8" x2="173.0" y2="750.8" stroke="#111" stroke-width="1.3"/>
<text x="173.6" y="767.4" font-size="15.9" font-weight="bold" text-anchor="middle" textLength="18.4" lengthAdjust="spacingAndGlyphs" stroke="#000" stroke-width="0.35">15</text>
<line x1="214.20000000000002" y1="745.8" x2="214.20000000000002" y2="750.8" stroke="#111" stroke-width="1.3"/>
<text x="214.8" y="767.4" font-size="15.9" font-weight="bold" text-anchor="middle" textLength="18.4" lengthAdjust="spacingAndGlyphs" stroke="#000" stroke-width="0.35">20</text>
<line x1="255.4" y1="745.8" x2="255.4" y2="750.8" stroke="#111" stroke-width="1.3"/>
<text x="256.0" y="767.4" font-size="15.9" font-weight="bold" text-anchor="middle" textLength="18.4" lengthAdjust="spacingAndGlyphs" stroke="#000" stroke-width="0.35">25</text>
<text x="59.3" y="787.6" font-size="13.6" font-weight="normal" text-anchor="start" textLength="189.5" lengthAdjust="spacingAndGlyphs" stroke="#000" stroke-width="0.45">time after <tspan font-weight="bold">α</tspan>GalCer injection (h)</text>
<text x="11.0" y="656.2" font-size="13.6" font-weight="normal" text-anchor="middle" textLength="186" lengthAdjust="spacingAndGlyphs" transform="rotate(-90 11.0 656.2)" stroke="#000" stroke-width="0.45">serum cytokines level (ng/mL)</text>
<polyline points="49.4,745.5664999999999 65.88,745.333 90.6,742.531 148.28,745.333 214.20000000000002,745.5664999999999 247.16,745.5664999999999" fill="none" stroke="#111" stroke-width="1.0"/>
<polyline points="49.4,744.1655 65.88,744.74925 90.6,735.9929999999999 148.28,735.059 214.20000000000002,725.252 247.16,745.5664999999999" fill="none" stroke="#111" stroke-width="1.0"/>
<polyline points="49.4,745.8 65.88,735.526 90.6,674.3489999999999 131.8,741.3634999999999 214.20000000000002,744.399 247.16,745.8" fill="none" stroke="#111" stroke-width="1.0"/>
<polyline points="49.4,745.8 65.88,742.2974999999999 90.6,605.7 131.8,710.308 214.20000000000002,728.7545 247.16,745.8" fill="none" stroke="#111" stroke-width="1.0"/>
<line x1="90.6" y1="605.7" x2="90.6" y2="589.355" stroke="#111" stroke-width="1.1"/>
<line x1="88.0" y1="589.355" x2="93.19999999999999" y2="589.355" stroke="#111" stroke-width="1.1"/>
<line x1="90.6" y1="605.7" x2="90.6" y2="620.8774999999999" stroke="#111" stroke-width="1.1"/>
<line x1="88.0" y1="620.8774999999999" x2="93.19999999999999" y2="620.8774999999999" stroke="#111" stroke-width="1.1"/>
<line x1="90.6" y1="674.3489999999999" x2="90.6" y2="664.3085" stroke="#111" stroke-width="1.1"/>
<line x1="88.0" y1="664.3085" x2="93.19999999999999" y2="664.3085" stroke="#111" stroke-width="1.1"/>
<line x1="90.6" y1="674.3489999999999" x2="90.6" y2="682.755" stroke="#111" stroke-width="1.1"/>
<line x1="88.0" y1="682.755" x2="93.19999999999999" y2="682.755" stroke="#111" stroke-width="1.1"/>
<circle cx="49.4" cy="745.8" r="4.9" fill="#111" stroke="#111" stroke-width="1.25"/>
<circle cx="65.88" cy="742.2974999999999" r="4.9" fill="#111" stroke="#111" stroke-width="1.25"/>
<circle cx="90.6" cy="605.7" r="4.9" fill="#111" stroke="#111" stroke-width="1.25"/>
<circle cx="131.8" cy="710.308" r="4.9" fill="#111" stroke="#111" stroke-width="1.25"/>
<circle cx="214.20000000000002" cy="728.7545" r="4.9" fill="#111" stroke="#111" stroke-width="1.25"/>
<circle cx="247.16" cy="745.8" r="4.9" fill="#111" stroke="#111" stroke-width="1.25"/>
<path d="M49.4 740.40L54.40 749.40L44.40 749.40Z" fill="#111" stroke="#111" stroke-width="1.25" stroke-linejoin="miter"/>
<path d="M65.88 730.13L70.88 739.13L60.88 739.13Z" fill="#111" stroke="#111" stroke-width="1.25" stroke-linejoin="miter"/>
<path d="M90.6 668.95L95.60 677.95L85.60 677.95Z" fill="#111" stroke="#111" stroke-width="1.25" stroke-linejoin="miter"/>
<path d="M131.8 735.96L136.80 744.96L126.80 744.96Z" fill="#111" stroke="#111" stroke-width="1.25" stroke-linejoin="miter"/>
<path d="M214.20000000000002 739.00L219.20 748.00L209.20 748.00Z" fill="#111" stroke="#111" stroke-width="1.25" stroke-linejoin="miter"/>
<path d="M247.16 740.40L252.16 749.40L242.16 749.40Z" fill="#111" stroke="#111" stroke-width="1.25" stroke-linejoin="miter"/>
<circle cx="49.4" cy="744.1655" r="4.9" fill="#fff" stroke="#111" stroke-width="1.25"/>
<circle cx="65.88" cy="744.74925" r="4.9" fill="#fff" stroke="#111" stroke-width="1.25"/>
<circle cx="90.6" cy="735.9929999999999" r="4.9" fill="#fff" stroke="#111" stroke-width="1.25"/>
<circle cx="148.28" cy="735.059" r="4.9" fill="#fff" stroke="#111" stroke-width="1.25"/>
<circle cx="214.20000000000002" cy="725.252" r="4.9" fill="#fff" stroke="#111" stroke-width="1.25"/>
<circle cx="247.16" cy="745.5664999999999" r="4.9" fill="#fff" stroke="#111" stroke-width="1.25"/>
<path d="M49.4 740.17L54.40 749.17L44.40 749.17Z" fill="#fff" stroke="#111" stroke-width="1.25" stroke-linejoin="miter"/>
<path d="M65.88 739.93L70.88 748.93L60.88 748.93Z" fill="#fff" stroke="#111" stroke-width="1.25" stroke-linejoin="miter"/>
<path d="M90.6 737.13L95.60 746.13L85.60 746.13Z" fill="#fff" stroke="#111" stroke-width="1.25" stroke-linejoin="miter"/>
<path d="M148.28 739.93L153.28 748.93L143.28 748.93Z" fill="#fff" stroke="#111" stroke-width="1.25" stroke-linejoin="miter"/>
<path d="M214.20000000000002 740.17L219.20 749.17L209.20 749.17Z" fill="#fff" stroke="#111" stroke-width="1.25" stroke-linejoin="miter"/>
<path d="M247.16 740.17L252.16 749.17L242.16 749.17Z" fill="#fff" stroke="#111" stroke-width="1.25" stroke-linejoin="miter"/>
</svg>
</body></html>
